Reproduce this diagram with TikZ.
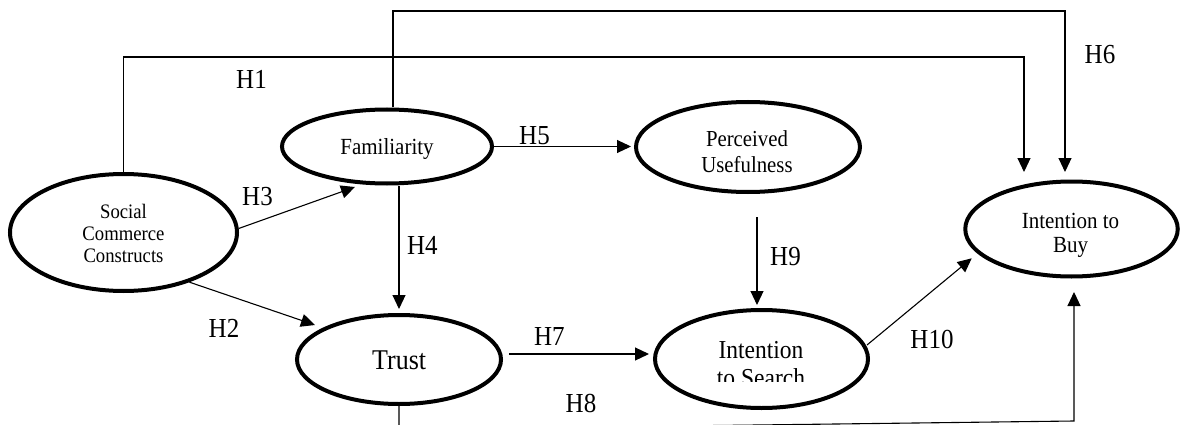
\documentclass[tikz,border=0pt]{standalone}
\usepackage{fontspec}
\setmainfont{Liberation Serif}
\usetikzlibrary{shapes.geometric,arrows.meta,calc}
\newcommand{\tallt}[1]{\scalebox{1}[1.1]{#1}}
\begin{document}
\begin{tikzpicture}[x=1pt,y=-1pt,
  oval/.style={draw,ellipse,line width=4pt,inner sep=0pt},
  conn/.style={line width=1.1pt},
  arr/.style={conn,-{Triangle[length=14pt,width=13pt]}},
  hlab/.style={anchor=base,inner sep=0pt,font=\fontsize{25}{30}\selectfont},
  txt/.style={align=center,inner sep=0pt}]
\useasboundingbox (0,0) rectangle (1182,425);
\clip (0,0) rectangle (1182,425);

% ellipses
\node[oval,minimum width=227pt,minimum height=117pt] (soc) at (123.5,232.5) {};
\node[oval,minimum width=210pt,minimum height=74pt] (fam) at (387,146.5) {};
\node[oval,minimum width=224pt,minimum height=90pt] (per) at (748,147) {};
\node[oval,minimum width=204pt,minimum height=89pt] (trust) at (399,359.5) {};
\node[oval,minimum width=213pt,minimum height=98pt] (srch) at (761.5,359) {};
\node[oval,minimum width=212.5pt,minimum height=95pt] (buy) at (1071.5,229) {};

% texts
\node[txt,font=\fontsize{18.7}{22}\selectfont] (soct) at (123.5,233.9) {\tallt{Social}\\\tallt{Commerce}\\\tallt{Constructs}};
\node[anchor=base,inner sep=0pt,font=\fontsize{21}{25}\selectfont] (famt) at (387,154) {\tallt{Familiarity}};
\node[txt,font=\fontsize{20.8}{26}\selectfont] (pert) at (747,151.9) {\tallt{Perceived}\\\tallt{Usefulness}};
\node[anchor=base,inner sep=0pt,font=\fontsize{26}{31}\selectfont] (trustt) at (399.2,369.3) {\tallt{Trust}};
\node[txt,font=\fontsize{21}{23.5}\selectfont] (buyt) at (1070.5,235.4) {\tallt{Intention to}\\\tallt{Buy}};
\begin{scope}
\clip (690,320) rectangle (830,381.7);
\node[txt,font=\fontsize{23.5}{27.3}\selectfont] (srcht) at (761,364.1) {\tallt{Intention}\\\tallt{to Search}};
\end{scope}

% connectors
\coordinate (h1c) at (1024,57);
\coordinate (h6c) at (1065,11);
\coordinate (bot) at (0,429.5);
\coordinate (h8c) at (1074,421);
\draw[arr] (soc.north) |- (h1c) -- ($(buy.center)+(-47.5,-57)$);
\draw[arr] ($(fam.north)+(6,0)$) |- (h6c) -- ($(buy.center)+(-6.5,-57)$);
\draw[arr,shorten >=3pt] (fam.east) -- (fam.east -| per.west);
\draw[arr] (soc.2) -- ($(fam.center)+(-32,40.5)$);
\draw[arr] (soc.-37) -- ($(trust.center)+(-84,-34.5)$);
\draw[arr,shorten >=4pt] (fam.south -| trust.north) -- (trust.north);
\draw[arr] ($(trust.east)+(6,-5.5)$) -- ($(srch.west)+(-4,-5)$);
\draw[arr] ($(per.south)+(9,23)$) -- ($(srch.north)+(-4.5,-3)$);
\draw[arr] ($(srch.center)+(105.5,-14)$) -- ($(buy.center)+(-99.8,29.3)$);
\draw[arr] (trust.south) -- (trust.south |- bot) -- (h8c) -- ($(buy.center)+(2.5,63)$);

% hypothesis labels
\node[hlab] (l1) at (251.5,88.3) {\tallt{H1}};
\node[hlab] (l2) at (224,337) {\tallt{H2}};
\node[hlab] (l3) at (257.5,205) {\tallt{H3}};
\node[hlab] (l4) at (422.3,254.7) {\tallt{H4}};
\node[hlab] (l5) at (534.5,144) {\tallt{H5}};
\node[hlab] (l6) at (1100,63.3) {\tallt{H6}};
\node[hlab] (l7) at (549.3,345.3) {\tallt{H7}};
\node[hlab] (l8) at (581,412.7) {\tallt{H8}};
\node[hlab] (l9) at (785.5,265.3) {\tallt{H9}};
\node[hlab] (l10) at (932,348.7) {\tallt{H10}};
\end{tikzpicture}
\end{document}
